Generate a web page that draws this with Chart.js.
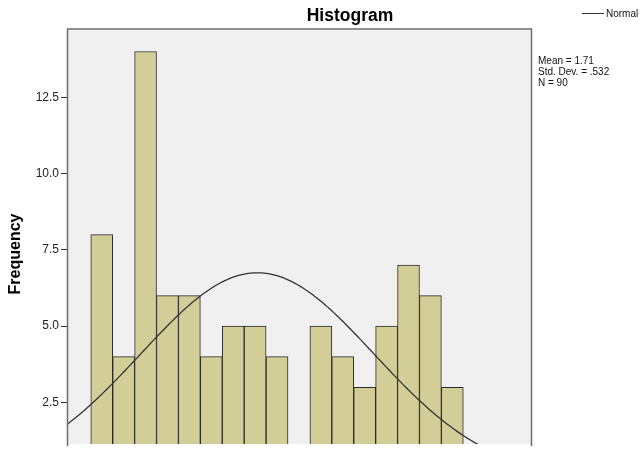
<!DOCTYPE html>
<html>
<head>
<meta charset="utf-8">
<script src="https://cdn.jsdelivr.net/npm/chart.js@4/dist/chart.umd.min.js"></script>
<style>
  html, body { margin: 0; padding: 0; background: #ffffff; overflow: hidden; }
  canvas { display: block; }
</style>
</head>
<body>
<canvas id="hist" width="644" height="450"></canvas>
<script>
// Bin centres (bin width 0.1) and the count in each bin
const binCenters = [1.0, 1.1, 1.2, 1.3, 1.4, 1.5, 1.6, 1.7, 1.8, 1.9, 2.0, 2.1, 2.2, 2.3, 2.4, 2.5, 2.6, 2.7];
const frequencies = [8, 4, 14, 6, 6, 4, 5, 5, 4, 0, 5, 4, 3, 5, 7, 6, 3, 1];

// Frequency axis tick values
const yTicks = [2.5, 5.0, 7.5, 10.0, 12.5];

// Summary statistics shown beside the plot; the normal curve uses them
const MEAN = 1.71;
const SD = 0.532;
const N = 90;
const BIN_WIDTH = 0.1;
const statLines = ['Mean = 1.71', 'Std. Dev. = .532', 'N = 90'];

const FONT = '"Liberation Sans", Arial, Helvetica, sans-serif';

// Normal density scaled to counts per bin
function normalCount(x) {
  const z = (x - MEAN) / SD;
  return N * BIN_WIDTH / (SD * Math.sqrt(2 * Math.PI)) * Math.exp(-0.5 * z * z);
}
const curvePoints = [];
for (let i = 0; i <= 240; i++) {
  const x = 0.8 + i * 0.01;
  curvePoints.push({ x: x, y: normalCount(x) });
}

const histPoints = binCenters.map((x, i) => ({ x: x, y: frequencies[i] }));

// Plot panel, frame, heading, legend and statistics text
const panelDecor = {
  id: 'panelDecor',
  beforeDatasetsDraw(chart) {
    const { ctx, chartArea: a } = chart;
    ctx.save();
    ctx.fillStyle = '#f0f0f0';
    ctx.fillRect(a.left, a.top, a.right - a.left, a.bottom - a.top);
    ctx.restore();
  },
  afterDraw(chart) {
    const { ctx, chartArea: a } = chart;
    ctx.save();
    // frame
    ctx.strokeStyle = '#6e6e6e';
    ctx.lineWidth = 1.5;
    ctx.beginPath();
    ctx.moveTo(a.left - 0.5, a.bottom + 2);
    ctx.lineTo(a.left - 0.5, a.top - 0.5);
    ctx.lineTo(a.right + 0.5, a.top - 0.5);
    ctx.lineTo(a.right + 0.5, a.bottom + 2);
    ctx.stroke();

    // heading
    ctx.fillStyle = '#000';
    ctx.font = 'bold 17.5px ' + FONT;
    ctx.textAlign = 'center';
    ctx.textBaseline = 'alphabetic';
    ctx.fillText('Histogram', 350, 21);

    // vertical axis title
    ctx.save();
    ctx.translate(16, 254);
    ctx.rotate(-Math.PI / 2);
    ctx.font = 'bold 16px ' + FONT;
    ctx.textBaseline = 'middle';
    ctx.fillText('Frequency', 0, 0);
    ctx.restore();

    // legend
    ctx.strokeStyle = '#333';
    ctx.lineWidth = 1;
    ctx.beginPath();
    ctx.moveTo(582, 13.5);
    ctx.lineTo(604, 13.5);
    ctx.stroke();
    ctx.font = '10px ' + FONT;
    ctx.textAlign = 'left';
    ctx.fillStyle = '#111';
    ctx.fillText('Normal', 606, 17);

    // statistics
    statLines.forEach((t, i) => ctx.fillText(t, 538, 64 + i * 11));
    ctx.restore();
  }
};

new Chart(document.getElementById('hist'), {
  type: 'bar',
  data: {
    datasets: [
      {
        type: 'line',
        label: 'Normal',
        data: curvePoints,
        borderColor: '#333333',
        borderWidth: 1.3,
        pointRadius: 0,
        fill: false,
        tension: 0,
        order: 0
      },
      {
        type: 'bar',
        label: 'Frequency',
        data: histPoints,
        backgroundColor: '#d3ce97',
        borderColor: '#2a2a2a',
        borderWidth: 1,
        barPercentage: 1,
        categoryPercentage: 1,
        order: 1
      }
    ]
  },
  options: {
    responsive: false,
    animation: false,
    devicePixelRatio: 1,
    layout: { padding: { top: 29.5, right: 113, bottom: 6, left: 0 } },
    plugins: {
      legend: { display: false },
      tooltip: { enabled: false },
      title: { display: false }
    },
    scales: {
      x: {
        type: 'linear',
        display: false,
        min: 0.846,
        max: 2.959,
        offset: false
      },
      y: {
        min: 1.14,
        max: 14.72,
        afterBuildTicks: (axis) => { axis.ticks = yTicks.map(v => ({ value: v })); },
        afterFit: (axis) => {
          axis.width = 68;
          axis.paddingTop = 0;
          axis.paddingBottom = 0;
        },
        ticks: {
          callback: (v) => Number(v).toFixed(1),
          color: '#222',
          font: { family: FONT, size: 12 },
          padding: 2
        },
        grid: { drawOnChartArea: false, drawTicks: true, tickLength: 7, color: '#333' },
        border: { display: false }
      }
    }
  },
  plugins: [panelDecor]
});
</script>
</body>
</html>
